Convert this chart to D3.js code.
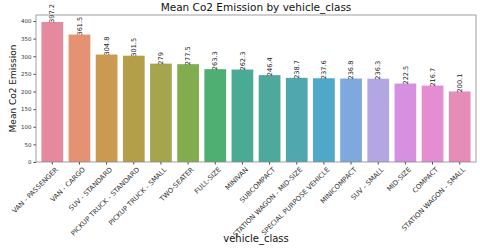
<!DOCTYPE html>
<html>
<head>
<meta charset="utf-8">
<script src="https://cdn.jsdelivr.net/npm/d3@7"></script>
<style>
  body { margin: 0; background: #fff; }
  text { font-family: "DejaVu Sans", sans-serif; }
</style>
</head>
<body>
<div id="chart"></div>
<script>
let classes = ['VAN - PASSENGER', 'VAN - CARGO', 'SUV - STANDARD', 'PICKUP TRUCK - STANDARD',
  'PICKUP TRUCK - SMALL', 'TWO-SEATER', 'FULL-SIZE', 'MINIVAN', 'SUBCOMPACT',
  'STATION WAGON - MID-SIZE', 'SPECIAL PURPOSE VEHICLE', 'MINICOMPACT', 'SUV - SMALL',
  'MID-SIZE', 'COMPACT', 'STATION WAGON - SMALL'];
let emissions = [397.2, 361.5, 304.8, 301.5, 279, 277.5, 263.3, 262.3, 246.4, 238.7,
  237.6, 236.8, 236.3, 222.5, 216.7, 200.1];
let barColors = ['#e5899e', '#e59274', '#c99a50', '#b39f4a', '#a4a54c', '#82ad4f', '#4faf72',
  '#4aab94', '#4ea99c', '#50a8ae', '#4fa8c8', '#7fa9de', '#b2a6e3', '#d690e0', '#e58dd2', '#e58db6'];
let yTicks = [0, 50, 100, 150, 200, 250, 300, 350, 400];

let width = 480,
    height = 248,
    margin = {top: 15, right: 4, bottom: 86, left: 36};

let svg = d3.select('#chart')
  .append('svg')
  .attr('width', width)
  .attr('height', height);

let x = d3.scaleBand()
  .domain(classes)
  .range([margin.left, width - margin.right])
  .padding(0.2);

let y = d3.scaleLinear()
  .domain([0, 417])
  .range([height - margin.bottom, margin.top]);

let data = classes.map((c, i) => ({name: c, value: emissions[i], color: barColors[i]}));

svg.selectAll('rect.bar')
  .data(data)
  .enter().append('rect')
    .attr('class', 'bar')
    .attr('x', d => x(d.name))
    .attr('width', x.bandwidth())
    .attr('y', d => y(d.value))
    .attr('height', d => y(0) - y(d.value))
    .attr('fill', d => d.color);

// value labels, rotated
svg.selectAll('text.val')
  .data(data)
  .enter().append('text')
    .attr('class', 'val')
    .attr('transform', d => `translate(${x(d.name) + x.bandwidth() / 2 + 2.2},${y(d.value) + 1}) rotate(-90)`)
    .attr('font-size', 6.6)
    .attr('fill', '#222')
    .text(d => d.value);

// y axis
let yAxis = svg.append('g')
  .attr('transform', `translate(${margin.left},0)`)
  .call(d3.axisLeft(y).tickValues(yTicks).tickSize(2.5).tickPadding(2));
yAxis.select('.domain').remove();
yAxis.selectAll('text').attr('font-size', 5.5).attr('fill', '#333');
yAxis.selectAll('line').attr('stroke', '#444');

// x axis
let xAxis = svg.append('g')
  .attr('transform', `translate(0,${height - margin.bottom})`)
  .call(d3.axisBottom(x).tickSize(2.5).tickPadding(2));
xAxis.select('.domain').remove();
xAxis.selectAll('line').attr('stroke', '#444');
xAxis.selectAll('text')
  .attr('font-size', 6.8)
  .attr('fill', '#333')
  .attr('text-anchor', 'end')
  .attr('dy', '0.6em')
  .attr('transform', 'translate(0,2) rotate(-45)');

// frame
svg.append('rect')
  .attr('x', margin.left)
  .attr('y', margin.top)
  .attr('width', width - margin.left - margin.right)
  .attr('height', height - margin.top - margin.bottom)
  .attr('fill', 'none')
  .attr('stroke', '#888')
  .attr('stroke-width', 0.8);

svg.append('text')
  .attr('x', (margin.left + width - margin.right) / 2)
  .attr('y', 11)
  .attr('text-anchor', 'middle')
  .attr('font-size', 10.5)
  .attr('fill', '#111')
  .text('Mean Co2 Emission by vehicle_class');

svg.append('text')
  .attr('transform', `translate(16,${(margin.top + height - margin.bottom) / 2}) rotate(-90)`)
  .attr('text-anchor', 'middle')
  .attr('font-size', 9)
  .attr('fill', '#111')
  .text('Mean Co2 Emission');

svg.append('text')
  .attr('x', (margin.left + width - margin.right) / 2)
  .attr('y', 242)
  .attr('text-anchor', 'middle')
  .attr('font-size', 10)
  .attr('fill', '#111')
  .text('vehicle_class');
</script>
</body>
</html>
